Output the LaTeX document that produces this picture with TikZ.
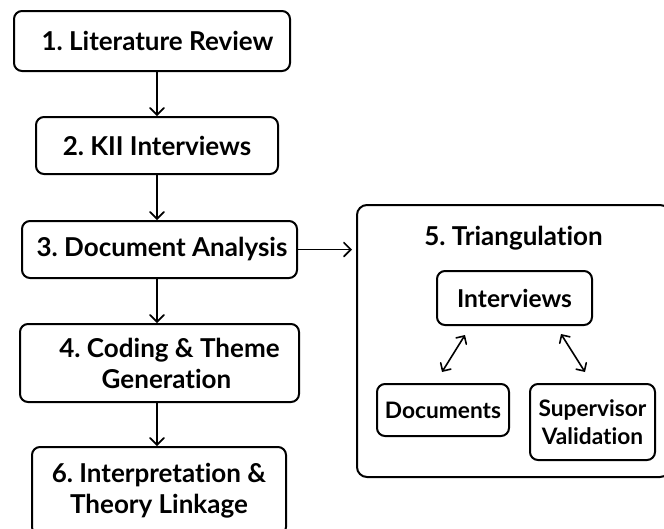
\documentclass[tikz,border=0pt]{standalone}
\usepackage{fontspec}
\setmainfont{Lato}[Ligatures={NoCommon,NoDiscretionary}]
\usetikzlibrary{arrows.meta,calc}
\tikzset{
  stepbox/.style={draw=black, line width=2pt, rounded corners=8pt, inner sep=0pt,
    align=center, font=\fontsize{26}{31}\selectfont\bfseries, text=black},
  subbox/.style={draw=black, line width=2pt, rounded corners=8pt, inner sep=0pt,
    align=center, font=\fontsize{22.7}{28}\selectfont\bfseries, text=black},
  arr/.style={line width=1.6pt, -{Straight Barb[length=7pt,width=14pt,line cap=round]}},
  dblarr/.style={line width=1.6pt, {Straight Barb[length=6pt,width=12pt,line cap=round]}-{Straight Barb[length=6pt,width=12pt,line cap=round]}},
}
\begin{document}
\frenchspacing
\begin{tikzpicture}[x=1pt,y=-1pt]
\useasboundingbox (0,0) rectangle (664,528);
\fill[white] (0,0) rectangle (664,528);

% main process column
\coordinate (col) at (157,0);
\node[stepbox, minimum width=276pt, minimum height=60pt] (b1) at (152,41) {\hspace*{11pt}1. Literature Review};
\node[stepbox, minimum width=242pt, minimum height=57pt] (b2) at (157,145.5) {2. KII Interviews};
\node[stepbox, minimum width=275pt, minimum height=57pt] (b3) at (159.5,249.5) {\hspace*{5pt}3. Document Analysis};
\node[stepbox, minimum width=279pt, minimum height=78pt] (b4) at (159.5,363) {\hspace*{20pt}4. Coding \& Theme\\\hspace*{14pt}Generation};
\node[stepbox, minimum width=254pt, minimum height=88pt] (b6) at (159,491) {6. Interpretation \&\\Theory Linkage};

% triangulation panel
\node[draw=black, line width=2pt, rounded corners=10pt, minimum width=313pt, minimum height=272pt, inner sep=0pt] (b5) at (513.5,341) {};
\node[anchor=base, inner sep=0pt, font=\fontsize{26}{30}\selectfont\bfseries] (t5) at (513.5,245) {5. Triangulation};
\node[subbox, minimum width=155pt, minimum height=54pt] (bi) at (514.5,298) {\fontsize{24.6}{28}\selectfont Interviews};
\node[subbox, minimum width=132pt, minimum height=52pt] (bd) at (443,410) {Documents};
\node[subbox, minimum width=125pt, minimum height=76pt] (bs) at (592.5,422) {Supervisor\\Validation};

% connectors
\draw[arr] (col |- b1.south) -- (col |- b2.north);
\draw[arr] (col |- b2.south) -- (col |- b3.north);
\draw[arr] (col |- b3.south) -- (col |- b4.north);
\draw[arr] (col |- b4.south) -- (col |- b6.north);
\draw[arr, shorten >=4pt] (b3.east) -- (b5.west |- b3.east);

\draw[dblarr] ($(bi.south west)+(29,9)$) -- ($(bd.north)+(-1,-11)$);
\draw[dblarr] ($(bi.south east)+(-32,8)$) -- ($(bs.north)+(-7.5,-11)$);
\end{tikzpicture}
\end{document}
